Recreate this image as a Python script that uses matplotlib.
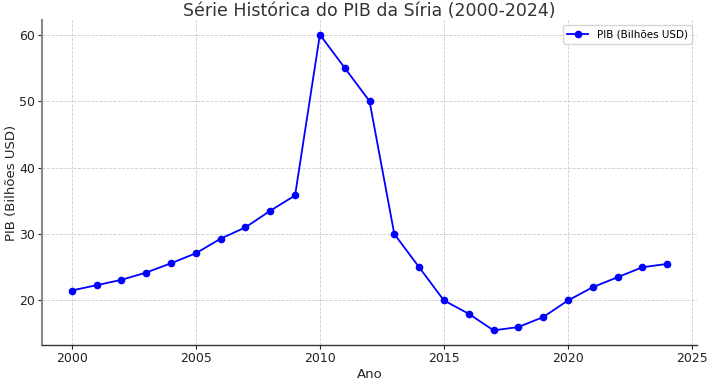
import matplotlib.pyplot as plt

anos = list(range(2000, 2025))
pib = [21.5, 22.3, 23.1, 24.2, 25.6, 27.1, 29.3, 31.0, 33.5, 35.8,
       60, 55, 50, 30, 25, 20, 18, 15.5, 16, 17.5,
       20, 22, 23.5, 25, 25.5]

fig = plt.figure(figsize=(7.25, 3.92), dpi=100)
ax = fig.add_axes([42/725, 1 - 345/392, (697-42)/725, (345-20)/392])

ax.plot(anos, pib, marker='o', color='blue', lw=1.3, ms=4.5, label="PIB (Bilhões USD)")

ax.set_xticks([2000, 2005, 2010, 2015, 2020, 2025])
ax.set_yticks([20, 30, 40, 50, 60])
ax.set_xlim(1998.8, 2025.2)
ax.set_ylim(13.3, 62.2)

ax.set_title("Série Histórica do PIB da Síria (2000-2024)", fontsize=12.5, color='#333333', pad=3)
ax.set_xlabel("Ano", fontsize=9.5, color='#222222', labelpad=2)
ax.set_ylabel("PIB (Bilhões USD)", fontsize=9.5, color='#222222', labelpad=1)

ax.grid(True, ls='--', lw=0.6, color='#cccccc')
for s in ['top', 'right']:
    ax.spines[s].set_visible(False)
ax.spines['left'].set_color('#888888')
ax.spines['left'].set_linewidth(1.5)
ax.spines['bottom'].set_color('#333333')
ax.spines['bottom'].set_linewidth(1.0)
ax.tick_params(labelsize=9, colors='#222222', length=3, pad=2)

ax.legend(loc='upper right', fontsize=7.5)

fig.savefig("out.png", dpi=100)
